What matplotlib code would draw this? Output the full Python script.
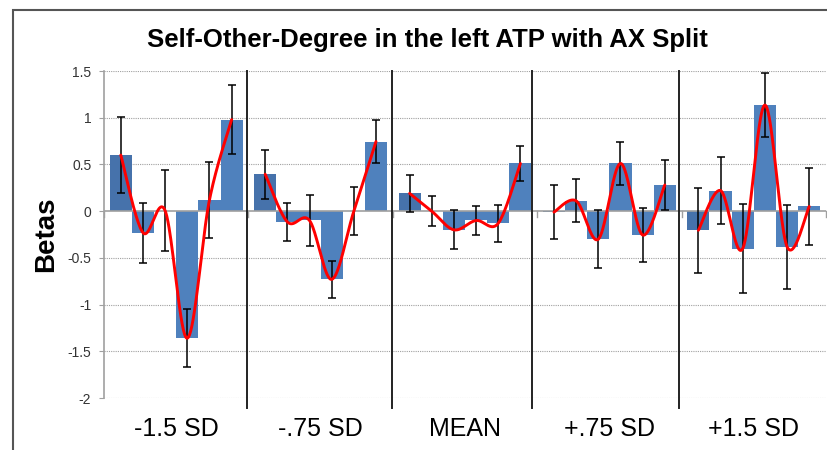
import matplotlib
matplotlib.use('Agg')
import matplotlib.pyplot as plt
from matplotlib.patches import Rectangle
import numpy as np

# group labels on the x axis
groups = ['-1.5 SD', '-.75 SD', 'MEAN', '+.75 SD', '+1.5 SD']

# betas (6 bars per group) and error bar half-lengths
betas_m15 = [0.60, -0.23, 0.005, -1.36, 0.12, 0.98]
err_m15 = [0.41, 0.32, 0.435, 0.31, 0.41, 0.37]
betas_m075 = [0.395, -0.115, -0.10, -0.73, 0.0, 0.745]
err_m075 = [0.26, 0.20, 0.275, 0.20, 0.26, 0.235]
betas_mean = [0.19, 0.0, -0.20, -0.10, -0.13, 0.51]
err_mean = [0.20, 0.16, 0.21, 0.15, 0.20, 0.185]
betas_p075 = [-0.01, 0.11, -0.30, 0.51, -0.255, 0.28]
err_p075 = [0.29, 0.23, 0.31, 0.23, 0.29, 0.27]
betas_p15 = [-0.205, 0.22, -0.40, 1.135, -0.38, 0.05]
err_p15 = [0.455, 0.355, 0.48, 0.345, 0.45, 0.41]

all_betas = [betas_m15, betas_m075, betas_mean, betas_p075, betas_p15]
all_err = [err_m15, err_m075, err_mean, err_p075, err_p15]

yticks = [-2, -1.5, -1, -0.5, 0, 0.5, 1, 1.5]
ytick_labels = ['-2', '-1.5', '-1', '-0.5', '0', '0.5', '1', '1.5']


def smooth(xs, ys, n=40):
    # excel style smoothed line (bezier, catmull-rom control points)
    xs = np.asarray(xs, float)
    ys = np.asarray(ys, float)
    px, py = [], []
    t = np.linspace(0, 1, n)
    for i in range(len(xs) - 1):
        i0 = max(i - 1, 0)
        i3 = min(i + 2, len(xs) - 1)
        c1x = xs[i] + (xs[i + 1] - xs[i0]) / 6
        c1y = ys[i] + (ys[i + 1] - ys[i0]) / 6
        c2x = xs[i + 1] - (xs[i3] - xs[i]) / 6
        c2y = ys[i + 1] - (ys[i3] - ys[i]) / 6
        bx = (1-t)**3*xs[i] + 3*(1-t)**2*t*c1x + 3*(1-t)*t**2*c2x + t**3*xs[i+1]
        by = (1-t)**3*ys[i] + 3*(1-t)**2*t*c1y + 3*(1-t)*t**2*c2y + t**3*ys[i+1]
        px.extend(bx)
        py.extend(by)
    return px, py


fig = plt.figure(figsize=(8.28, 4.5), dpi=100)
ax = fig.add_axes([104/828, 52/450, 722/828, 327/450])

w = 0.1535
dark = '#4672ab'
light = '#4f81bd'

for g, (b, e) in enumerate(zip(all_betas, all_err)):
    xs = [g + (i - 2.5) * w for i in range(len(b))]
    cols = [dark] + [light] * (len(b) - 1)
    ax.bar(xs, b, width=w, color=cols, zorder=2)
    ax.errorbar(xs, b, yerr=e, fmt='none', ecolor='black', elinewidth=1.1,
                capsize=3, capthick=1.1, zorder=3)
    sx, sy = smooth(xs, b)
    ax.plot(sx, sy, color='#ff0000', lw=2.1, zorder=4, solid_capstyle='round')

ax.set_xlim(-0.5, 4.5)
ax.set_ylim(-2, 1.5)

# dotted gridlines
for y in yticks:
    if y != 0:
        ax.axhline(y, color='#a0a0a0', lw=0.8, ls=(0, (1, 1)), zorder=1)
ax.axhline(0, color='#a0a0a0', lw=1.2, zorder=2.5)

# category ticks on the zero line
for xb in np.arange(-0.5, 5.0, 1.0):
    ax.plot([xb, xb], [0, -0.06], color='#a0a0a0', lw=1, zorder=2.5, clip_on=False)

# group separators
sep_shift = [-0.01, -0.007, -0.035, -0.02]
for k, xb in enumerate([0.5, 1.5, 2.5, 3.5]):
    ax.plot([xb + sep_shift[k]] * 2, [1.5, -2.107], color='#222222', lw=1.4,
            zorder=5, clip_on=False)

for s in ['top', 'right', 'bottom']:
    ax.spines[s].set_visible(False)
ax.spines['left'].set_color('#a0a0a0')
ax.spines['left'].set_linewidth(1.2)

ax.set_yticks(yticks)
ax.set_yticklabels(ytick_labels)
ax.tick_params(axis='y', direction='out', length=3.6, color='#a0a0a0',
               labelsize=10, labelcolor='#333333', pad=5.5)
ax.set_xticks(range(len(groups)))
ax.set_xticklabels(groups)
ax.tick_params(axis='x', length=0, labelsize=18, pad=14)
for lab in ax.get_xticklabels() + ax.get_yticklabels():
    lab.set_family('Liberation Sans')

fig.text(0.516, 0.91, 'Self-Other-Degree in the left ATP with AX Split',
         ha='center', va='center', fontsize=18.5, fontweight='bold',
         family='Liberation Sans')
fig.text(0.0556, 0.48, 'Betas', rotation=90, ha='center', va='center',
         fontsize=20, fontweight='bold', family='Liberation Sans')

# outer chart frame (cut by the image edge)
fig.add_artist(Rectangle((13/828, -0.2), 1.2, 1.2 - 10/450, transform=fig.transFigure,
                         fill=False, edgecolor='#555555', lw=1.5))

fig.savefig('out.png', dpi=100)
